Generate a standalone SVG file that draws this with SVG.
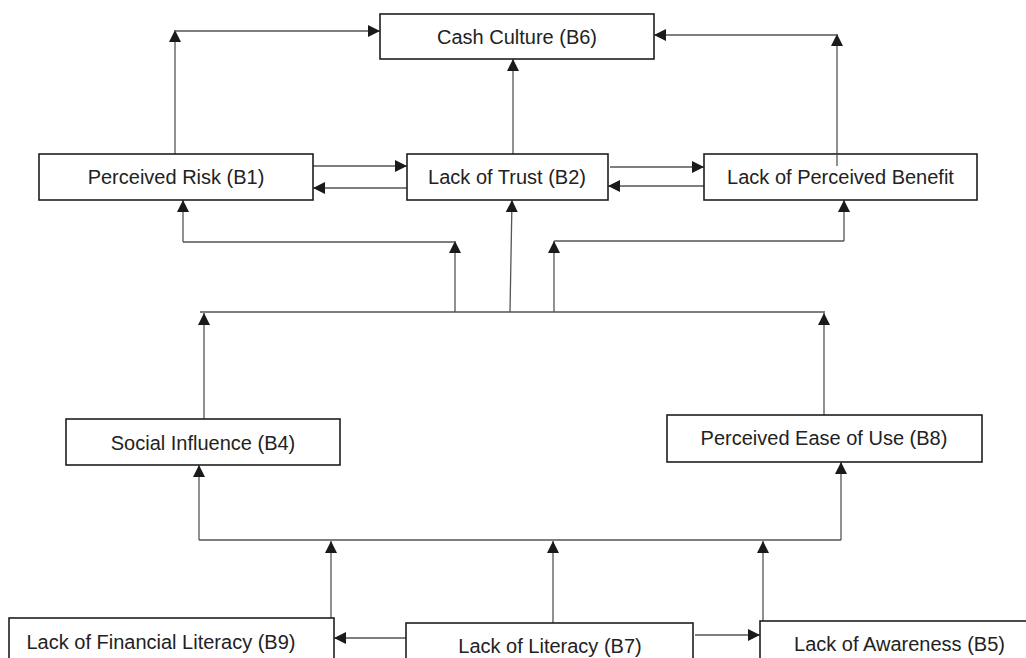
<svg xmlns="http://www.w3.org/2000/svg" width="1026" height="658" viewBox="0 0 1026 658">
<style>
.box{fill:#fff;stroke:#1e1e1e;stroke-width:1.6}
.lbl{font-family:"Liberation Sans",Arial,sans-serif;font-size:20px;fill:#222;text-anchor:middle}
.ln{fill:none;stroke:#555;stroke-width:1.3}
.ar{fill:none;stroke:#555;stroke-width:1.3;marker-end:url(#ah)}
</style>
<defs>
<marker id="ah" markerUnits="userSpaceOnUse" markerWidth="13" markerHeight="13" refX="12" refY="6" orient="auto">
<path d="M0,0 L12,6 L0,12 z" fill="#1a1a1a"/>
</marker>
</defs>
<rect width="1026" height="658" fill="#fff"/>
<g id="connectors">
<path class="ar" d="M175,154 V30"/>
<path class="ar" d="M175,31 H380"/>
<path class="ar" d="M837,166 V34"/>
<path class="ar" d="M837,35 H654"/>
<path class="ar" d="M513,154 V59"/>
<path class="ar" d="M313,166 H407"/>
<path class="ar" d="M407,188 H313"/>
<path class="ar" d="M610,167 H704"/>
<path class="ar" d="M704,186 H608"/>
<path class="ln" d="M200,312 H825"/>
<path class="ar" d="M455,312 V241"/>
<path class="ln" d="M455,242 H183"/>
<path class="ar" d="M183,242 V200"/>
<path class="ar" d="M510,312 L512,200"/>
<path class="ar" d="M554,312 V241"/>
<path class="ln" d="M554,241 H844"/>
<path class="ar" d="M844,241 V200"/>
<path class="ar" d="M204,419 V313"/>
<path class="ar" d="M824,415 V313"/>
<path class="ln" d="M199,540 H841"/>
<path class="ar" d="M199,540 V465"/>
<path class="ar" d="M841,540 V462"/>
<path class="ar" d="M331,618 V541"/>
<path class="ar" d="M553,623 V541"/>
<path class="ar" d="M763,621 V541"/>
<path class="ar" d="M406,638 H334"/>
<path class="ar" d="M695,635 H760"/>
</g>
<g id="b6"><rect class="box" x="380" y="14" width="274" height="45"/><text class="lbl" x="517" y="44">Cash Culture (B6)</text></g>
<g id="b1"><rect class="box" x="39" y="154" width="274" height="46"/><text class="lbl" x="176" y="184">Perceived Risk (B1)</text></g>
<g id="b2"><rect class="box" x="407" y="154" width="201" height="46"/><text class="lbl" x="507" y="184">Lack of Trust (B2)</text></g>
<g id="lpb"><rect class="box" x="704" y="154" width="273" height="46"/><text class="lbl" x="840.5" y="184">Lack of Perceived Benefit</text><path class="ln" d="M837,154 V166"/></g>
<g id="b4"><rect class="box" x="66" y="419" width="274" height="46"/><text class="lbl" x="203" y="450">Social Influence (B4)</text></g>
<g id="b8"><rect class="box" x="667" y="415" width="315" height="47"/><text class="lbl" x="824" y="445">Perceived Ease of Use (B8)</text></g>
<g id="b9"><rect class="box" x="9" y="618" width="325" height="60"/><text class="lbl" x="161" y="649">Lack of Financial Literacy (B9)</text></g>
<g id="b7"><rect class="box" x="406" y="623" width="287" height="60"/><text class="lbl" x="550" y="653">Lack of Literacy (B7)</text></g>
<g id="b5"><rect class="box" x="760" y="621" width="290" height="60"/><text class="lbl" x="899.5" y="651">Lack of Awareness (B5)</text></g>
</svg>
